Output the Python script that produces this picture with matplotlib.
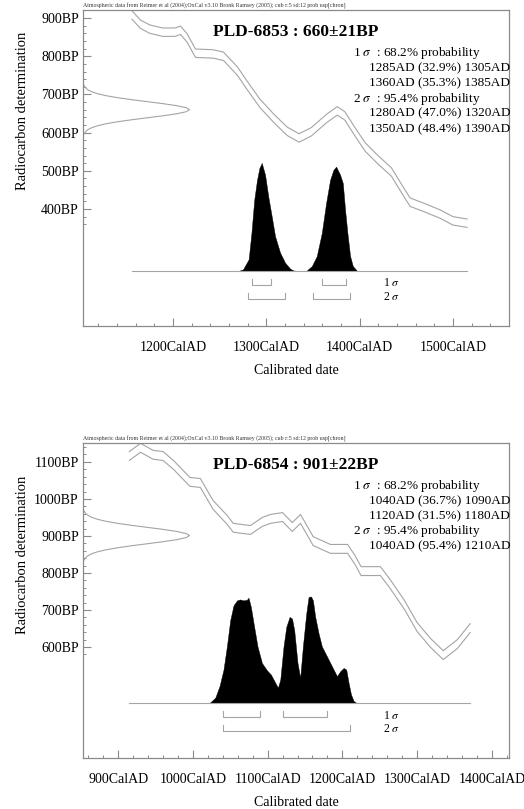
import numpy as np
import matplotlib
matplotlib.use('Agg')
import matplotlib.pyplot as plt
import matplotlib.transforms as mtransforms

plt.rcParams['font.family'] = ['Liberation Serif', 'DejaVu Serif']
plt.rcParams['mathtext.fontset'] = 'stix'

HEADER = ('Atmospheric data from Reimer et al (2004);OxCal v3.10 Bronk Ramsey (2005); '
          'cub r:5 sd:12 prob usp[chron]')

# 14C determination profile, read in sigma steps (shared shape)
gauss_z = [-3, -2.75, -2.5, -2.25, -2, -1.75, -1.5, -1.25, -1, -0.75, -0.5, -0.25, 0,
           0.25, 0.5, 0.75, 1, 1.25, 1.5, 1.75, 2, 2.25, 2.5, 2.75, 3]
gauss_h = [0.011, 0.023, 0.044, 0.080, 0.135, 0.216, 0.325, 0.458, 0.607, 0.755, 0.882, 0.969, 1.0,
           0.969, 0.882, 0.755, 0.607, 0.458, 0.325, 0.216, 0.135, 0.080, 0.044, 0.023, 0.011]

# ---- PLD-6853 ----
a_name = 'PLD-6853'
a_age, a_err = 660, 21
a_curve_year = [1156, 1165, 1175, 1189, 1202, 1208, 1215, 1224, 1243, 1254, 1269, 1279, 1293,
                1307, 1322, 1335, 1348, 1365, 1376, 1384, 1395, 1406, 1420, 1434, 1447, 1454,
                1470, 1486, 1500, 1515]
a_curve_bp = [908, 884, 871, 863, 863, 868, 848, 808, 806, 800, 761, 725, 677,
              640, 604, 586, 602, 638, 657, 644, 602, 562, 528, 497, 445, 418,
              403, 387, 369, 363]
a_curve_sd = 11
a_prob_year = [1270, 1275, 1281, 1284, 1287, 1290, 1292.5, 1295, 1298.6, 1302, 1305.7, 1309.3,
               1314.7, 1320, 1325.4, 1329, 1336, 1343, 1348.7, 1354, 1359.4, 1364, 1368.3,
               1371.8, 1374.7, 1379, 1381.9, 1384.3, 1386.8, 1389.7, 1392.6, 1397, 1402]
a_prob = [0, 0.016, 0.108, 0.353, 0.66, 0.844, 0.952, 1.0, 0.89, 0.69, 0.506, 0.322,
          0.169, 0.077, 0.022, 0.005, 0, 0.003, 0.046, 0.138, 0.353, 0.629, 0.844,
          0.935, 0.966, 0.89, 0.813, 0.568, 0.353, 0.138, 0.046, 0.003, 0]
a_r1 = [(1285, 1305), (1360, 1385)]
a_r2 = [(1280, 1320), (1350, 1390)]
a_lines = ['1 $\\sigma$  : 68.2% probability',
           '1285AD (32.9%) 1305AD',
           '1360AD (35.3%) 1385AD',
           '2 $\\sigma$  : 95.4% probability',
           '1280AD (47.0%) 1320AD',
           '1350AD (48.4%) 1390AD']
a_xticks = [1200, 1300, 1400, 1500]
a_yticks = [400, 500, 600, 700, 800, 900]

# ---- PLD-6854 ----
b_name = 'PLD-6854'
b_age, b_err = 901, 22
b_curve_year = [915, 930, 947, 960, 974, 996, 1010, 1027, 1046, 1054, 1077, 1093, 1104, 1120,
                1133, 1144, 1161, 1184, 1207, 1217, 1225, 1251, 1264, 1283, 1300, 1318, 1335,
                1354, 1371]
b_curve_bp = [1116, 1138, 1119, 1116, 1092, 1046, 1043, 984, 943, 922, 916, 938, 946, 951,
              924, 946, 886, 865, 865, 835, 805, 805, 770, 714, 654, 611, 578,
              608, 651]
b_curve_sd = 12
b_prob_year = [1018, 1023, 1030, 1035.7, 1041, 1045.5, 1050, 1054.4, 1059, 1063.3, 1067.7,
               1072.3, 1074.4, 1077.6, 1082, 1086.5, 1092.4, 1099, 1104.4, 1110.2, 1113.8,
               1117, 1121.3, 1125, 1129.4, 1132.6, 1135.6, 1140, 1143.6, 1147.2, 1151.7,
               1154.8, 1158, 1160.6, 1163.7, 1168.2, 1172.6, 1179.4, 1186, 1192.8, 1197.2,
               1201.7, 1205.2, 1208.3, 1211.5, 1215, 1219.5]
b_prob = [0, 0.006, 0.052, 0.159, 0.312, 0.526, 0.771, 0.908, 0.954, 0.963, 0.954,
          0.96, 0.979, 0.893, 0.709, 0.526, 0.373, 0.306, 0.266, 0.19, 0.144,
          0.22, 0.526, 0.709, 0.801, 0.786, 0.679, 0.373, 0.235, 0.526, 0.832,
          0.985, 0.991, 0.954, 0.801, 0.648, 0.526, 0.434, 0.343, 0.251, 0.297,
          0.327, 0.312, 0.19, 0.083, 0.021, 0]
b_r1 = [(1040, 1090), (1120, 1180)]
b_r2 = [(1040, 1210)]
b_lines = ['1 $\\sigma$  : 68.2% probability',
           '1040AD (36.7%) 1090AD',
           '1120AD (31.5%) 1180AD',
           '2 $\\sigma$  : 95.4% probability',
           '1040AD (95.4%) 1210AD']
b_xticks = [900, 1000, 1100, 1200, 1300, 1400]
b_yticks = [600, 700, 800, 900, 1000, 1100]

GRAY = '#a4a4a4'
SPINE = '#8a8a8a'


def draw_panel(ax, name, age, err, cyear, cbp, csd, pyear, prob, r1, r2, lines,
               xticks, yticks, xlim, ylim, yminor, ylab_y):
    ax.set_xlim(xlim)
    ax.set_ylim(ylim)
    cyear = np.array(cyear)
    cbp = np.array(cbp)
    ax.plot(cyear, cbp + csd, color=GRAY, lw=0.8)
    ax.plot(cyear, cbp - csd, color=GRAY, lw=0.8)

    # radiocarbon determination on the y axis
    gz = np.array(gauss_z)
    gh = np.array(gauss_h)
    ax.plot(xlim[0] + 0.25 * (xlim[1] - xlim[0]) * gh, age + gz * err, color=GRAY, lw=0.8)

    # calibrated distribution on a hidden twin scale
    ax2 = ax.twinx()
    ax2.set_ylim(-0.509, 2.415)
    ax2.axis('off')
    ax2.fill_between(pyear, 0, prob, color='black', lw=0.3)
    ax2.plot([cyear[0], cyear[-1]], [0, 0], color=GRAY, lw=0.8)
    for lo, hi in r1:
        ax2.plot([lo, lo, hi, hi], [-0.075, -0.13, -0.13, -0.075], color=GRAY, lw=0.8)
    for lo, hi in r2:
        ax2.plot([lo, lo, hi, hi], [-0.2, -0.255, -0.255, -0.2], color=GRAY, lw=0.8)
    tr = mtransforms.blended_transform_factory(ax.transAxes, ax2.transData)
    ax2.text(0.705, -0.115, '1 $\\sigma$', transform=tr, fontsize=8.5, va='center')
    ax2.text(0.705, -0.24, '2 $\\sigma$', transform=tr, fontsize=8.5, va='center')

    # texts
    ax.text(0.5, 0.93, f'{name} : {age}±{err}BP', transform=ax.transAxes,
            ha='center', va='center', fontsize=12.5, fontweight='bold')
    ax.text(0.0, 1.002, HEADER, transform=ax.transAxes, fontsize=4.2, ha='left',
            va='bottom', color='#333333')
    for i, t in enumerate(lines):
        x = 0.634 if 'probability' in t else 0.672
        ax.text(x, 0.864 - i * 0.048, t, transform=ax.transAxes, fontsize=9.5,
                ha='left', va='center')

    # axes
    ax.set_xticks(xticks)
    ax.set_xticklabels([f'{v}CalAD' for v in xticks], fontsize=10)
    ax.set_xticks(np.arange(xlim[0] - xlim[0] % 20 + 20, xlim[1], 20), minor=True)
    ax.set_yticks(yticks)
    ax.set_yticklabels([f'{v}BP' for v in yticks], fontsize=10)
    ax.set_yticks(np.arange(yminor[0], yminor[1] + 1, 20), minor=True)
    ax.tick_params(which='major', direction='in', length=6, width=0.8, color=SPINE)
    ax.tick_params(which='minor', direction='in', length=2.5, width=0.7, color=SPINE)
    ax.tick_params(axis='x', which='major', pad=11)
    ax.tick_params(axis='y', which='major', pad=3)
    for s in ax.spines.values():
        s.set_color(SPINE)
        s.set_linewidth(0.9)
    ax.set_xlabel('Calibrated date', fontsize=10, labelpad=7)
    ax.set_ylabel('Radiocarbon determination', fontsize=10.5)
    ax.yaxis.set_label_coords(-0.127, ylab_y)


fig = plt.figure(figsize=(5.24, 8.09), dpi=100)
ax_a = fig.add_axes([0.1584, 0.597, 0.813, 0.3906])
ax_b = fig.add_axes([0.1584, 0.063, 0.813, 0.3894])

draw_panel(ax_a, a_name, a_age, a_err, a_curve_year, a_curve_bp, a_curve_sd,
           a_prob_year, a_prob, a_r1, a_r2, a_lines, a_xticks, a_yticks,
           (1103.5, 1560), (93.7, 921), (360, 920), 0.68)
draw_panel(ax_b, b_name, b_age, b_err, b_curve_year, b_curve_bp, b_curve_sd,
           b_prob_year, b_prob, b_r1, b_r2, b_lines, b_xticks, b_yticks,
           (853, 1423), (300, 1151), (580, 1140), 0.644)

fig.savefig('out.png', dpi=100)
